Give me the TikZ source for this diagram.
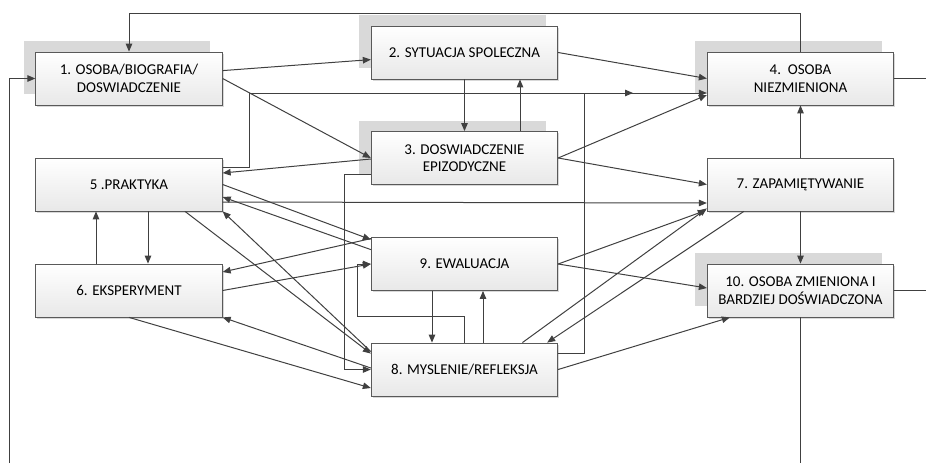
\documentclass[tikz,border=0pt]{standalone}
\usepackage{fontspec}
\setmainfont{Carlito}
\usetikzlibrary{arrows.meta,shadows,calc}
\definecolor{lnc}{HTML}{404040}
\begin{document}
\begin{tikzpicture}[x=1pt,y=-1pt,
  box/.style={draw=black!65, line width=0.8pt, top color=white, bottom color=black!9,
    minimum width=186.5pt, minimum height=53pt, inner sep=0pt, align=center,
    font=\fontsize{15}{17.5}\selectfont,
    drop shadow={shadow xshift=1.5pt, shadow yshift=-1.5pt, fill=black!30, opacity=0.5}},
  hshadow/.style={general shadow={shadow xshift=-12pt, shadow yshift=11pt, fill=black!15}},
  arr/.style={draw=lnc, line width=1pt, -{Triangle[length=8pt,width=6.5pt]}},
  plain/.style={draw=lnc, line width=1pt}]
\useasboundingbox (0,0) rectangle (926,463);

% boxes
\node[box,hshadow] (b1) at (129,78.5) {1. OSOBA/BIOGRAFIA/\\DOSWIADCZENIE};
\node[box,hshadow] (b2) at (464.5,52.5) {2. SYTUACJA SPOLECZNA};
\node[box,hshadow] (b3) at (464.5,158) {3. DOSWIADCZENIE\\EPIZODYCZNE};
\node[box,hshadow] (b4) at (800.5,78.5) {4.\ \ OSOBA\\NIEZMIENIONA};
\node[box] (b5) at (129,184.5) {5 .PRAKTYKA};
\node[box] (b6) at (129,290.5) {6. EKSPERYMENT};
\node[box] (b7) at (800.5,184.5) {7. ZAPAMIĘTYWANIE};
\node[box] (b8) at (464.5,369.5) {8. MYSLENIE/REFLEKSJA};
\node[box] (b9) at (464.5,264) {9. EWALUACJA};
\node[box,hshadow] (b10) at (800.5,290.5) {10. OSOBA ZMIENIONA I\\BARDZIEJ DOŚWIADCZONA};

% free ends
\coordinate (lin) at (9,463);
\coordinate (r4) at (926,78.5);
\coordinate (r10) at (926,290.5);
\coordinate (d10) at (800.5,463);
\coordinate (m4) at (633,93);

% loops and outer lines
\draw[arr] (b4.north) -- ++(0,-38) -| (b1.north);
\draw[arr] (lin) |- (b1.west);
\draw[plain] (b4.east) -- (r4);
\draw[plain] (b10.east) -- (r10);
\draw[plain] (b10.south) -- (d10);

% from 1
\draw[arr] ([yshift=-19pt]b1.north east) -- ([yshift=-34pt]b2.north west);
\draw[arr] (b1.east) -- (b3.west);

% 2 / 3 / 4
\draw[arr] (b2.east) -- (b4.west);
\draw[arr] (b2.south) -- (b3.north);
\draw[arr] ([xshift=55.5pt]b3.north) -- ([xshift=55.5pt]b2.south);
\draw[arr] (b3.east) -- ([yshift=-16.5pt]b4.west);
\draw[arr] (b3.east) -- (b7.west);
\draw[arr] ([yshift=-1pt]b3.west) -- ([yshift=11.5pt]b5.east);
\draw[arr] ([yshift=17.5pt]b5.east) -- ++(27,0) |- ([yshift=-14.5pt]b4.west);
\draw[arr] ([yshift=16.5pt]b8.east) -- ++(26,0) |- (m4);
\draw[arr] ([yshift=-16pt]b3.west) -- ++(-26,0) |- (b8.west);

% 5 / 6
\draw[arr] ([xshift=19pt]b5.south) -- ([xshift=19pt]b6.north);
\draw[arr] ([xshift=-33pt]b6.north) -- ([xshift=-33pt]b5.south);
\draw[arr] ([yshift=-17.5pt]b5.east) -- ([yshift=-18.5pt]b7.west);
\draw[arr] (b5.east) -- ([yshift=-2.5pt]b9.north west);
\draw[arr] ([yshift=-12.5pt]b9.north west) -- ([yshift=-12.5pt]b5.east);
\draw[arr] ([yshift=-1.5pt]b9.north west) -- ([yshift=18.5pt]b6.east);
\draw[arr] (b6.east) -- (b9.west);
\draw[arr] ([xshift=56pt]b5.south) -- ([yshift=-11pt]b8.north west);
\draw[arr] ([yshift=-9pt]b8.north west) -- (b5.south east);
\draw[arr] (b6.south) -- ([yshift=-18.5pt]b8.west);
\draw[arr] ([yshift=1.5pt]b8.west) -- (b6.south east);

% 8 / 9
\draw[arr] ([xshift=-32.5pt]b9.south) -- ([xshift=-32.5pt]b8.north);
\draw[arr] ([xshift=18.5pt]b8.north) -- ([xshift=18.5pt]b9.south);
\draw[arr] (b8.north) -- ++(0,-26) -- ++(-107,0) |- (b9.west);

% to 7 / 10
\draw[arr] (b9.east) -- ([xshift=-1pt,yshift=1pt]b7.south west);
\draw[arr] ([xshift=-35.75pt]b8.north east) -- ([yshift=3pt]b7.south west);
\draw[arr] ([xshift=37pt]b7.south west) -- ([xshift=-11pt]b8.north east);
\draw[arr] (b9.east) -- ([yshift=2.5pt]b10.west);
\draw[arr] (b8.east) -- ([xshift=23pt]b10.south west);
\draw[arr] (b7.north) -- (b4.south);
\draw[arr] (b7.south) -- (b10.north);
\end{tikzpicture}
\end{document}
